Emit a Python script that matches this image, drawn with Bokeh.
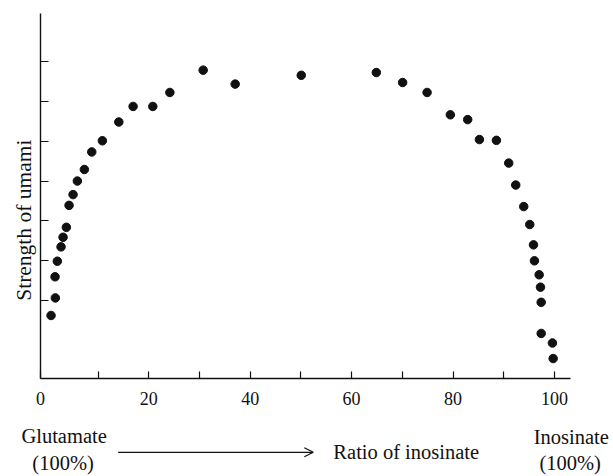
from bokeh.plotting import figure
from bokeh.layouts import column
from bokeh.models import (Range1d, FixedTicker, CustomJSTickFormatter,
                          Arrow, OpenHead, ColumnDataSource)
from bokeh.embed import file_html
from bokeh.resources import INLINE

# ---- data ----
ratio_inosinate = [0.73, 1.58, 1.52, 1.97, 2.70, 3.10, 3.75, 4.28, 5.07, 5.92,
                   7.30, 8.76, 10.85, 14.09, 16.91, 20.80, 24.16, 30.73, 37.04, 50.07,
                   64.87, 70.06, 74.88, 79.47, 82.89, 85.20, 88.55, 90.98, 92.36, 93.94,
                   95.13, 95.86, 96.05, 96.98, 97.24, 97.38, 97.38, 99.60, 99.74]
umami_strength = [1.63, 2.07, 2.60, 2.99, 3.35, 3.59, 3.84, 4.39, 4.66, 5.00,
                  5.29, 5.73, 6.01, 6.48, 6.87, 6.87, 7.22, 7.78, 7.43, 7.65,
                  7.72, 7.47, 7.22, 6.66, 6.54, 6.04, 6.02, 5.45, 4.90, 4.36,
                  3.91, 3.40, 3.00, 2.65, 2.34, 1.96, 1.18, 0.94, 0.55]
x_major_ticks = [-1.35, 20, 40, 60, 80, 100]   # first one is the "0" at the axis corner
x_minor_ticks = [10, 30, 50, 70, 90]
y_ticks = [2, 3, 4, 5, 6, 7, 8]

caption_texts = ["Glutamate", "(100%)", "Inosinate", "(100%)"]
caption_x = [3.3, 3.1, 103.3, 103.1]
caption_y = [-1.40, -2.06, -1.42, -2.06]
axis_caption = "Ratio of inosinate"

FONT = "Liberation Serif"
INK = "#111111"

TOP_H = 420
p = figure(width=613, height=TOP_H, output_backend="svg", toolbar_location=None,
           x_range=Range1d(-1.35, 103.16), y_range=Range1d(0.05, 9.2),
           min_border_left=40, min_border_right=43, min_border_top=13,
           min_border_bottom=TOP_H - 378)
p.outline_line_color = None
p.xgrid.visible = False
p.ygrid.visible = False

src = ColumnDataSource(dict(x=ratio_inosinate, y=umami_strength))
p.scatter("x", "y", source=src, size=8.5, color=INK)

# x axis
xa = p.xaxis[0]
xa.ticker = FixedTicker(ticks=x_major_ticks, minor_ticks=x_minor_ticks)
xa.formatter = CustomJSTickFormatter(code="return tick < 0 ? '0' : tick.toFixed(0);")
xa.axis_line_color = INK
xa.axis_line_width = 1.4
xa.major_tick_line_color = INK
xa.minor_tick_line_color = INK
xa.major_tick_line_width = 1.2
xa.minor_tick_line_width = 1.2
xa.major_tick_in = 7
xa.major_tick_out = 0
xa.minor_tick_in = 7
xa.minor_tick_out = 0
xa.major_label_text_font = FONT
xa.major_label_text_font_size = "18px"
xa.major_label_text_color = INK
xa.major_label_standoff = 13

# y axis
ya = p.yaxis[0]
ya.ticker = FixedTicker(ticks=y_ticks, minor_ticks=[])
ya.formatter = CustomJSTickFormatter(code="return '';")
ya.axis_line_color = INK
ya.axis_line_width = 1.4
ya.major_tick_line_color = INK
ya.major_tick_line_width = 1.2
ya.major_tick_in = 8
ya.major_tick_out = 0
ya.minor_tick_in = 0
ya.minor_tick_out = 0
ya.major_label_standoff = 0
ya.axis_label = "Strength of umami" + "\u00a0" * 9
ya.axis_label_text_font = FONT
ya.axis_label_text_font_style = "normal"
ya.axis_label_text_font_size = "21.5px"
ya.axis_label_text_color = INK
ya.axis_label_standoff = 5

# caption strip under the chart, same horizontal scale as the chart
CAP_H = 476 - TOP_H
px_per_x = 530 / (103.16 + 1.35)
x0_px = 40 + 1.35 * px_per_x
px_per_y = 365 / (9.2 - 0.05)
y0_px = 378 + 0.05 * px_per_y
cap = figure(width=613, height=CAP_H, output_backend="svg", toolbar_location=None,
             x_range=Range1d(-x0_px / px_per_x, (613 - x0_px) / px_per_x),
             y_range=Range1d(-(476 - y0_px) / px_per_y, -(TOP_H - y0_px) / px_per_y),
             min_border=0, min_border_left=0, min_border_right=0,
             min_border_top=0, min_border_bottom=0,
             x_axis_type=None, y_axis_type=None)
for fig in (p, cap):
    try:
        fig.frame_align = False
    except Exception:
        pass
cap.outline_line_color = None
cap.xgrid.visible = False
cap.ygrid.visible = False
cap.text(x=caption_x, y=caption_y, text=caption_texts, text_font=FONT,
         text_font_size="20.5px", text_color=INK, text_align="center",
         text_baseline="middle")
cap.text(x=[56.4], y=[-1.78], text=[axis_caption], text_font=FONT,
         text_font_size="20.5px", text_color=INK, text_align="left",
         text_baseline="middle")
cap.add_layout(Arrow(x_start=13.97, y_start=-1.80, x_end=52.44, y_end=-1.80,
                     line_color=INK, line_width=1.2,
                     end=OpenHead(size=9, line_color=INK, line_width=1.2)))

layout = column(p, cap, spacing=0)
open("out.html", "w").write(file_html(layout, INLINE))
